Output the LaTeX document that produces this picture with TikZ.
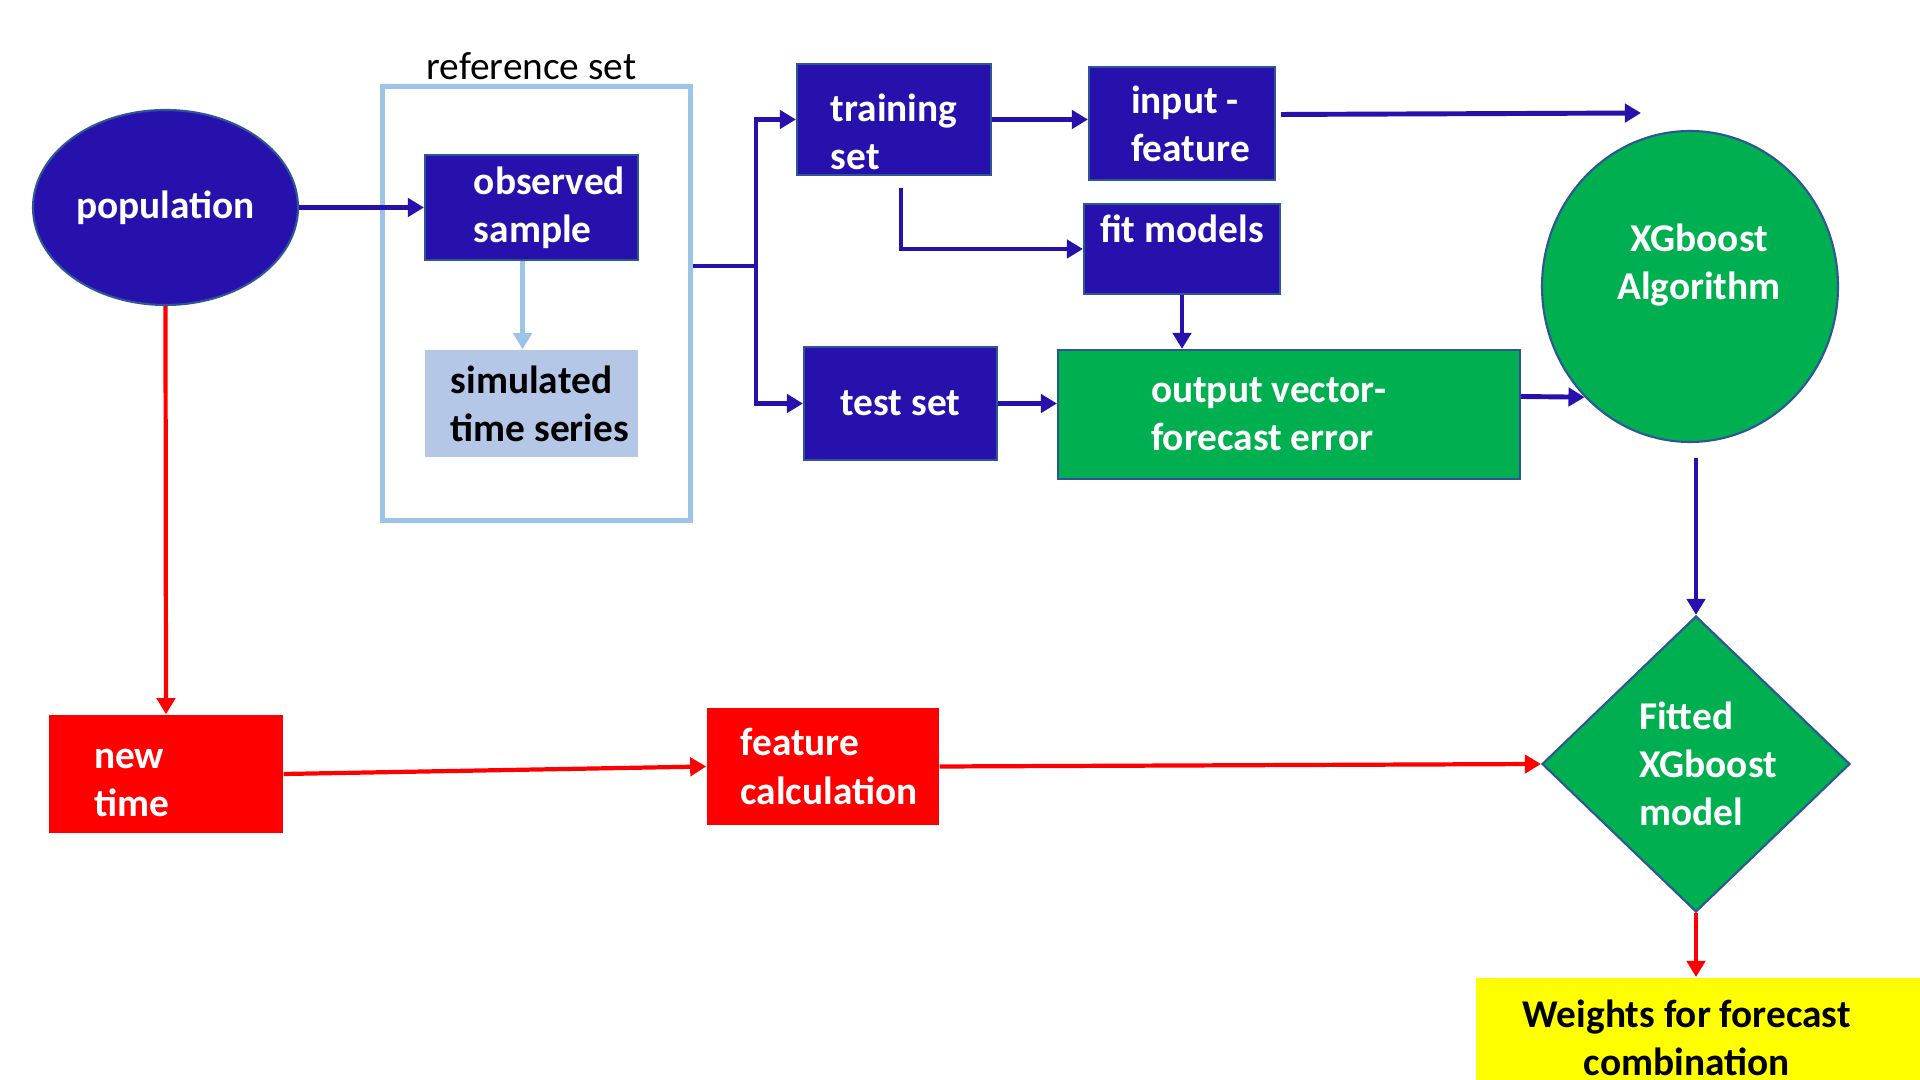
\documentclass[tikz,border=0pt]{standalone}
\usepackage{fontspec}
\setmainfont{Carlito}
\usepackage{xcolor}
\definecolor{DeepIndigo}{HTML}{2611AD}
\definecolor{SlateEdge}{HTML}{2F5597}
\definecolor{PaleSky}{HTML}{9DC3E6}
\definecolor{MistBlue}{HTML}{B4C7E7}
\definecolor{Emerald}{HTML}{00B050}
\definecolor{SignalRed}{HTML}{FF0000}
\definecolor{Lemon}{HTML}{FFFF00}
\usepackage{tikz}
\usetikzlibrary{arrows.meta, positioning, shapes.geometric}

\begin{document}
\begin{tikzpicture}[
  txt/.style={font=\fontsize{11.2}{13.7}\selectfont\bfseries},
  blk/.style={txt, rectangle, draw=SlateEdge, fill=DeepIndigo, text=white, line width=0.6pt, align=left, inner sep=0pt},
  grn/.style={blk, fill=Emerald},
  redbox/.style={txt, rectangle, fill=SignalRed, text=white, align=left, inner sep=0pt},
  flow/.style={-{Triangle[length=4.6pt,width=5.2pt]}, line width=1.4pt, DeepIndigo},
  redflow/.style={flow, SignalRed, line width=1.2pt},
  paleflow/.style={flow, PaleSky, line width=1.3pt},
]
  \useasboundingbox (0,0) rectangle (19.2,10.8);
  \clip (0,0) rectangle (19.2,10.8);

  \node[blk, ellipse, minimum width=2.65cm, minimum height=1.95cm] (population) at (1.655,8.725) {population};
  \node[draw=PaleSky, line width=1.6pt, minimum width=3.08cm, minimum height=4.34cm,
    label={[font=\fontsize{11.2}{13.7}\selectfont, inner sep=1pt, xshift=-0.5mm]above:reference set}] (refset) at (5.365,7.765) {};
  \node[blk, minimum width=2.13cm, minimum height=1.05cm] (observed) at (5.315,8.725) {\hspace*{3.6mm}observed\\\hspace*{3.6mm}sample};
  \node[txt, fill=MistBlue, align=left, inner sep=0pt, minimum width=2.13cm, minimum height=1.07cm] (simulated) at (5.315,6.765) {\hspace*{1.7mm}simulated\\\hspace*{1.7mm}time series};
  \node[blk, minimum width=1.94cm, text height=1.055cm, text depth=0.055cm] (training) at (8.94,9.605) {training\\set};
  \node[blk, minimum width=1.86cm, minimum height=1.13cm] (input) at (11.82,9.565) {\hspace*{1.7mm}input -\\\hspace*{1.7mm}feature};
  \node[blk, minimum width=1.96cm, text height=0.39cm, text depth=0.51cm] (fit) at (11.82,8.31) {fit models};
  \node[blk, minimum width=1.93cm, minimum height=1.13cm] (test) at (9.005,6.765) {test set};
  \node[grn, minimum width=4.62cm, minimum height=1.29cm] (output) at (12.89,6.655) {\makebox[2.76cm][l]{output vector-}\\forecast error};
  \node[grn, ellipse, minimum width=2.96cm, minimum height=3.11cm,
    label={[txt, text=white, align=center, xshift=0.9mm, yshift=2.15mm]center:XGboost\\Algorithm}] (xgb) at (16.90,7.935) {};
  \node[grn, diamond, minimum width=3.08cm, minimum height=2.96cm] (fitted) at (16.96,3.16) {\hspace*{2.4mm}Fitted\\\hspace*{2.4mm}XGboost\\\hspace*{2.4mm}model};
  \node[fill=Lemon, anchor=north west, minimum width=4.7cm, minimum height=1.4cm,
    label={[txt, align=center, xshift=-2.4mm, yshift=1mm]center:Weights for forecast\\combination}] (weights) at (14.75,1.03) {};
  \node[redbox, minimum width=2.34cm, text height=1.02cm, text depth=0.16cm] (newtime) at (1.66,3.06) {\makebox[1.44cm][l]{new}\\time};
  \node[redbox, minimum width=2.32cm, minimum height=1.17cm] (featcalc) at (8.23,3.135) {\hspace*{1.2mm}feature\\\hspace*{1.2mm}calculation};

  \coordinate (split) at (7.56,8.14);
  \coordinate (xgbin) at (16.41,9.67);

  \draw[flow] (population.east) -- (observed.west);
  \draw[paleflow] ([xshift=-0.9mm]observed.south) -- ([xshift=-0.9mm]simulated.north);
  \draw[flow, -] (refset.east |- split) -- (split);
  \draw[flow] (split) |- (training.west);
  \draw[flow] (split) |- (test.west);
  \draw[flow] (training.east) -- (training.east -| input.west);
  \draw[flow] ([xshift=0.5mm,yshift=0.9mm]input.east) -- (xgbin);
  \draw[flow, shorten <=1.2mm] ([xshift=0.7mm]training.south) |- (fit.west);
  \draw[flow] (fit.south) -- (fit.south |- output.north);
  \draw[flow] (test.east) -- (test.east -| output.west);
  \draw[flow] ([yshift=1.8mm]output.east) -- (xgb.south west);
  \draw[flow, shorten <=1.5mm] (fitted.north |- xgb.south) -- (fitted.north);

  \draw[redflow] (population.south) -- (newtime.north);
  \draw[redflow] (newtime.east) -- (featcalc.west);
  \draw[redflow] (featcalc.east) -- (fitted.west);
  \draw[redflow] (fitted.south) -- (fitted.south |- weights.north);
\end{tikzpicture}
\end{document}
